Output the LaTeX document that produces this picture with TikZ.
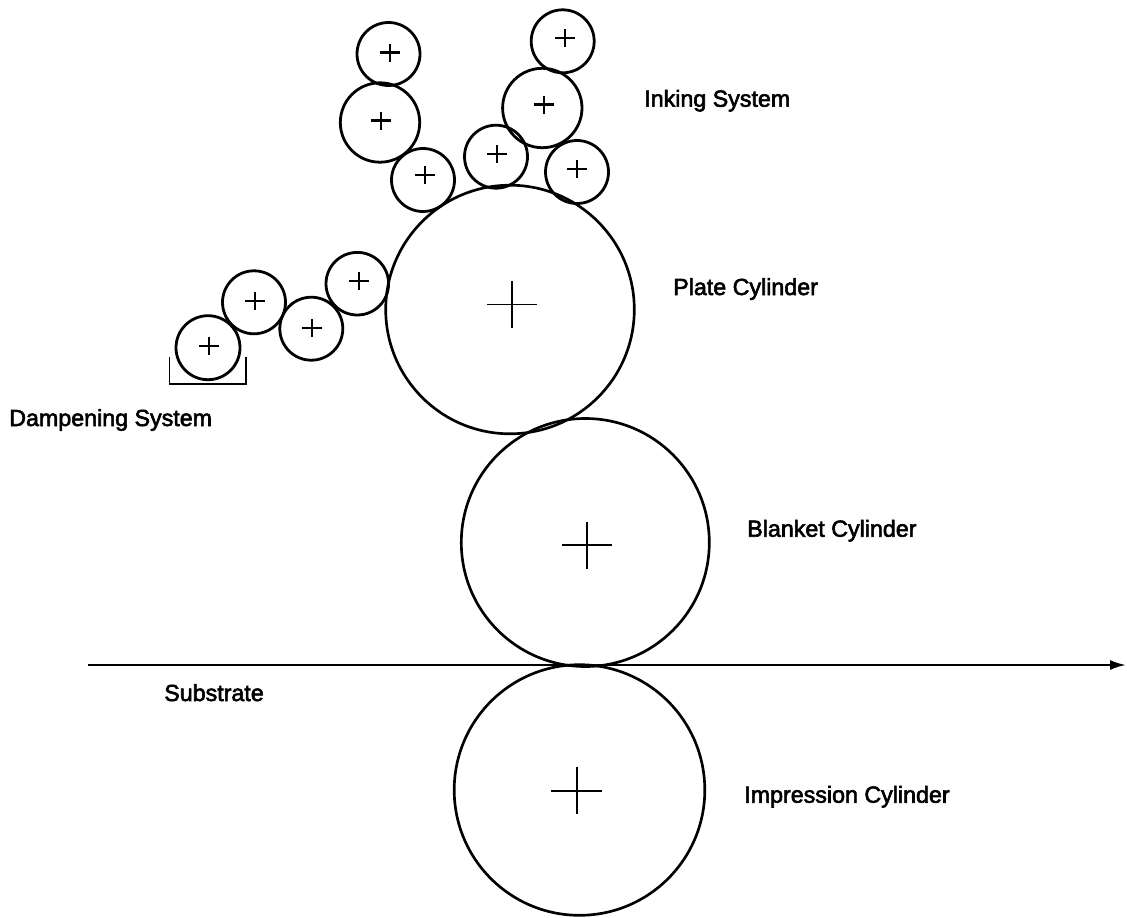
\documentclass[tikz,border=0pt]{standalone}
\usepackage{fontspec}
\newfontfamily\lblfont[FakeBold=2.5]{Liberation Sans}
\usetikzlibrary{arrows.meta,calc}
\newcommand{\px}{0.0264583cm}
\tikzset{x=\px,y=-\px,
 roller/.style={draw=black,line width=2.1pt,circle,inner sep=0pt,fill=none},
 cylinder/.style={draw=black,line width=2pt,circle,inner sep=0pt,fill=none},
 lbl/.style={font=\lblfont\fontsize{17.5}{20}\selectfont,text=black,anchor=base west,inner sep=0pt},
 crossline/.style={line width=1.6pt},
 bigcross/.style={line width=1.4pt}}
% name, style, x, y, r, cross x, cross y
\newcommand{\rollr}[7]{%
 \node[#2,minimum size=#5*2*\px] (#1) at (#3,#4) {};
 \coordinate (#1c) at (#6,#7);
}
\newcommand{\crossat}[4]{%
 \draw[#2] ($(#1c)+(-#3,0)$) -- ($(#1c)+(#3,0)$);
 \draw[#2] ($(#1c)+(0,-#4)$) -- ($(#1c)+(0,#4)$);
}
\begin{document}
\begin{tikzpicture}
\useasboundingbox (0,0) rectangle (1127,917);
\fill[white] (0,0) rectangle (1127,917);
\rollr{ia}{roller}{388.5}{54}{31.5}{390}{52.5}
\crossat{ia}{crossline}{10}{9}
\rollr{ib}{roller}{380}{122.5}{39.7}{381}{120.5}
\crossat{ib}{crossline}{10}{9}
\rollr{ic}{roller}{423}{180}{31.5}{425}{175}
\crossat{ic}{crossline}{10}{9}
\rollr{id}{roller}{562.7}{41.3}{31.5}{565}{38}
\crossat{id}{crossline}{10}{9}
\rollr{ie}{roller}{542.3}{108}{39.7}{544.3}{104.5}
\crossat{ie}{crossline}{10}{9}
\rollr{if}{roller}{496}{156.7}{31.5}{497}{154.3}
\crossat{if}{crossline}{10}{9}
\rollr{ig}{roller}{577}{172}{31.5}{576.7}{169.3}
\crossat{ig}{crossline}{10}{9}
\rollr{da}{roller}{357.3}{283.7}{31.3}{359}{281}
\crossat{da}{crossline}{10}{9}
\rollr{db}{roller}{311.3}{328.7}{31.5}{312}{327.7}
\crossat{db}{crossline}{10}{9}
\rollr{dc}{roller}{254}{302.3}{31.5}{255.3}{301}
\crossat{dc}{crossline}{10}{9}
\rollr{dd}{roller}{208}{347.7}{32}{209.3}{345.7}
\crossat{dd}{crossline}{10}{9}
\rollr{plate}{cylinder}{510}{309.5}{124.3}{512}{304.5}
\crossat{plate}{bigcross}{25}{23.5}
\rollr{blanket}{cylinder}{585.3}{542.5}{124}{587}{545}
\crossat{blanket}{bigcross}{25}{23.5}
\rollr{impr}{cylinder}{579.5}{790}{125.3}{576.7}{790.7}
\crossat{impr}{bigcross}{25.5}{23.5}
\coordinate (subL) at (88,665);
\coordinate (subR) at (1126,665);
\draw[line width=1.7pt,-{Latex[length=12pt,width=7.5pt]}] (subL) -- (subR);
\coordinate (t1) at (169.5,357); \coordinate (t2) at (169.5,384);
\coordinate (t3) at (246,384); \coordinate (t4) at (246,357);
\draw[line width=1.3pt] (t1) -- (t2) -- (t3) -- (t4);
\node[lbl] (l1) at (644,106.7) {Inking System};
\node[lbl] (l2) at (673,295) {Plate Cylinder};
\node[lbl] (l3) at (9,426) {Dampening System};
\node[lbl] (l4) at (747,536.7) {Blanket Cylinder};
\node[lbl] (l5) at (164,701) {Substrate};
\node[lbl] (l6) at (744,802.7) {Impression Cylinder};
\end{tikzpicture}
\end{document}
